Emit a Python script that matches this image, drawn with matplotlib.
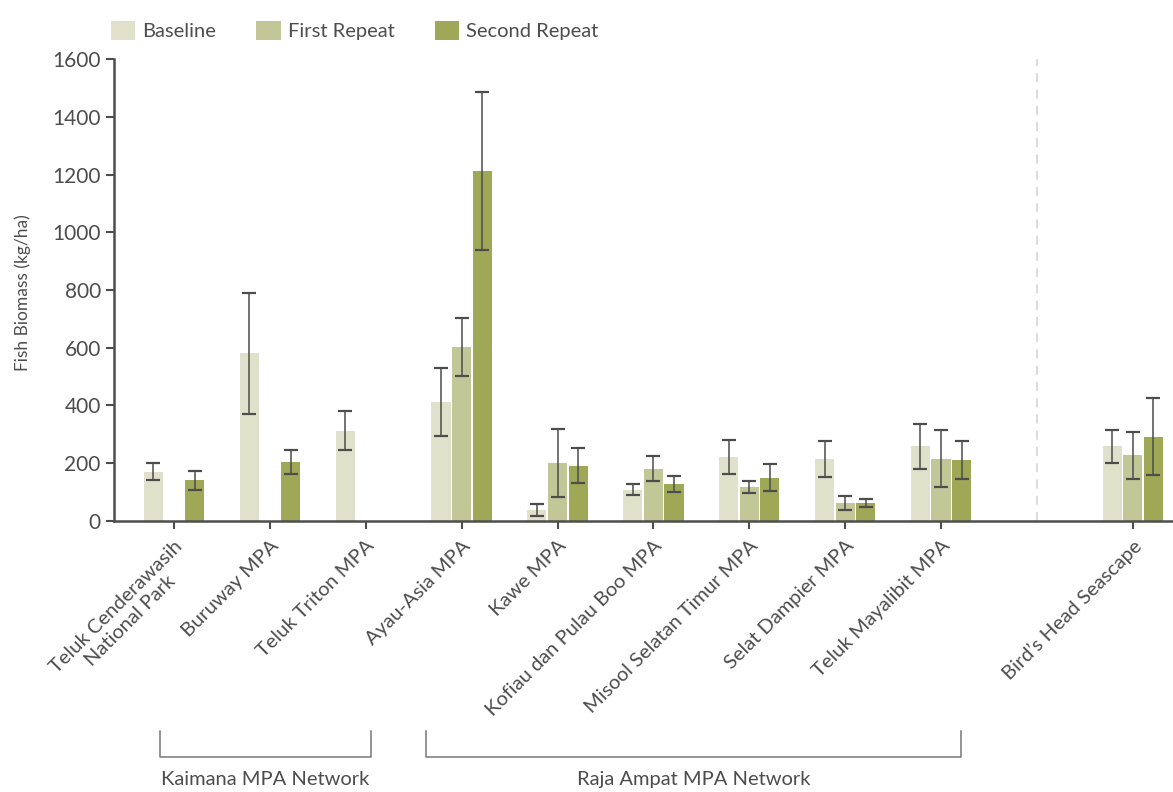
import matplotlib.pyplot as plt
import numpy as np

plt.rcParams['font.family'] = ['Lato', 'DejaVu Sans']

# Data
sites = ["Teluk Cenderawasih\nNational Park", "Buruway MPA", "Teluk Triton MPA",
         "Ayau-Asia MPA", "Kawe MPA", "Kofiau dan Pulau Boo MPA",
         "Misool Selatan Timur MPA", "Selat Dampier MPA", "Teluk Mayalibit MPA",
         "Bird\u2019s Head Seascape"]
site_pos = [0, 1, 2, 3, 4, 5, 6, 7, 8, 10]
series = ["Baseline", "First Repeat", "Second Repeat"]

baseline = [170, 580, 312, 411, 36, 107, 220, 213, 257, 257]
baseline_err = [31, 210, 69, 118, 21, 18, 59, 62, 77, 57]
first_rep = [np.nan, np.nan, np.nan, 602, 199, 180, 116, 61, 215, 226]
first_err = [np.nan, np.nan, np.nan, 99, 117, 43, 20, 24, 98, 81]
second_rep = [140, 204, np.nan, 1213, 190, 128, 149, 61, 210, 291]
second_err = [33, 42, np.nan, 273, 61, 28, 47, 15, 66, 133]

groups = ["Kaimana MPA Network", "Raja Ampat MPA Network"]
group_spans = [(-0.15, 2.05), (2.63, 8.21)]

colors = ["#e0e1cb", "#c2c797", "#9ea856"]
ink = "#4d4d4d"

fig = plt.figure(figsize=(11.73, 7.92), dpi=100)
ax = fig.add_axes([0.0972, 0.3428, 0.9028, 0.5823])

values = [baseline, first_rep, second_rep]
errors = [baseline_err, first_err, second_err]
offsets = [-0.215, 0.0, 0.215]
x = np.array(site_pos, dtype=float)
for vals, errs, off, col, name in zip(values, errors, offsets, colors, series):
    ax.bar(x + off, vals, width=0.2, color=col, label=name, zorder=2)
    ax.errorbar(x + off, vals, yerr=errs, fmt='none', ecolor=ink, elinewidth=1.1,
                capsize=4.7, capthick=1.6, zorder=3)

ax.axvline(9, color="#d9d9d9", linestyle=(0, (5, 4)), linewidth=1.3, zorder=1)

ax.set_xlim(-0.626, 10.42)
ax.set_ylim(0, 1600)
ax.set_yticks(range(0, 1601, 200))
ax.set_xticks(site_pos)
ax.set_xticklabels(sites, rotation=45, ha='right', va='top', rotation_mode='anchor',
                   multialignment='center', fontsize=14.5, color=ink)
ax.tick_params(axis='y', labelsize=15, labelcolor=ink, color=ink, length=6, width=1.5)
ax.tick_params(axis='x', color=ink, length=6, width=1.5, pad=6)
fig.text(23 / 1173, 1 - 293 / 792, "Fish Biomass (kg/ha)", rotation=90, ha='center',
         va='center', fontsize=12.5, color=ink)

for side in ['top', 'right']:
    ax.spines[side].set_visible(False)
for side in ['left', 'bottom']:
    ax.spines[side].set_color(ink)
    ax.spines[side].set_linewidth(1.8)

# group brackets under the labels
trans = ax.get_xaxis_transform()
for name, (x0, x1) in zip(groups, group_spans):
    ax.plot([x0, x0, x1, x1], [-0.456, -0.5126, -0.5126, -0.456], color="#777777",
            linewidth=1.1, transform=trans, clip_on=False)
    ax.text((x0 + x1) / 2, -0.562, name, transform=trans, ha='center', va='center',
            fontsize=14.5, color=ink)

fig.legend(loc='center left', bbox_to_anchor=(0.0946, 0.9615), ncol=3, frameon=False,
           fontsize=14.5, handlelength=1.2, handleheight=1.1, handletextpad=0.35,
           columnspacing=2.0, borderpad=0, borderaxespad=0, labelcolor=ink)

plt.savefig("out.png", dpi=100)
